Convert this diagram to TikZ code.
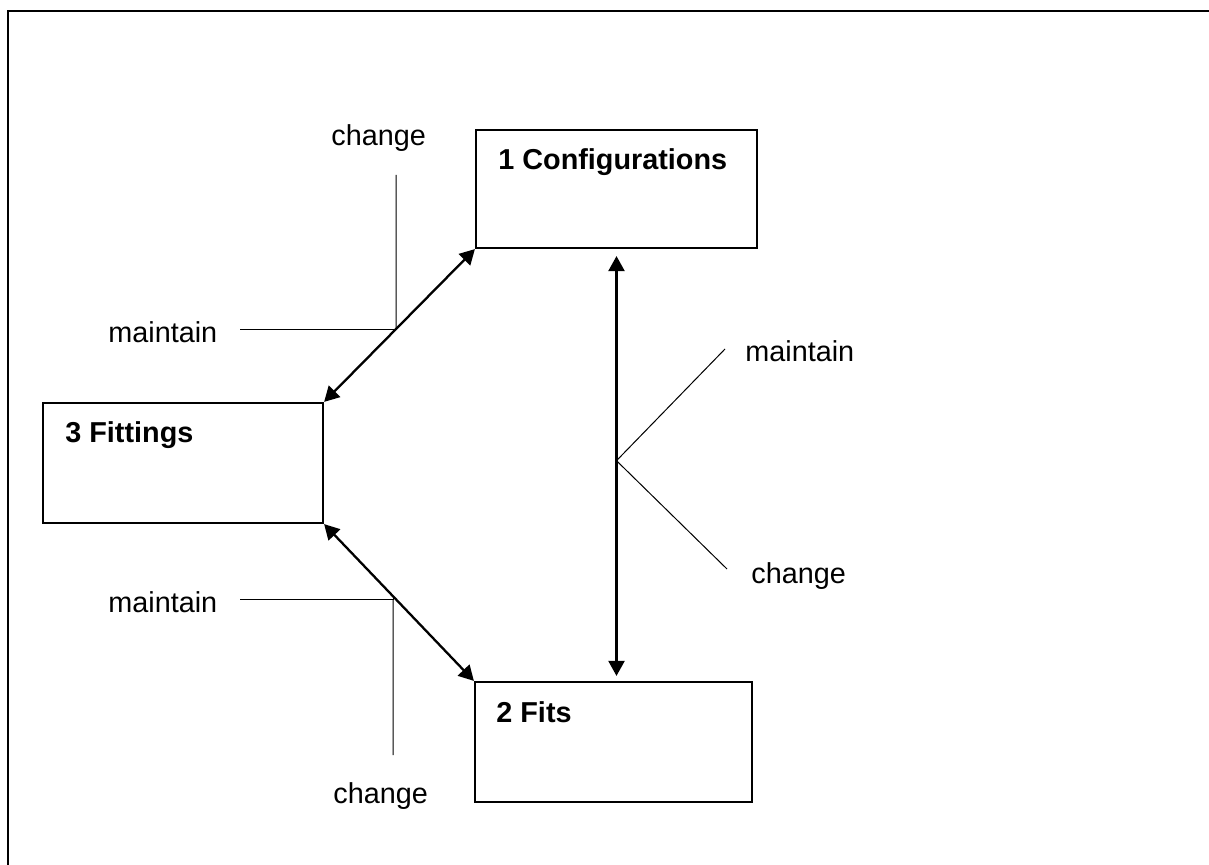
\documentclass[tikz,border=0pt]{standalone}
\usepackage{fontspec}
\setmainfont{Liberation Sans}
\usetikzlibrary{arrows.meta}
\begin{document}
\begin{tikzpicture}[x=0.5pt,y=-0.5pt,
  box/.style={draw=black, line width=1.1pt, fill=white, inner sep=0pt},
  boxtext/.style={anchor=base west, inner sep=0pt, font=\fontsize{14.4}{17}\selectfont\bfseries},
  lbl/.style={anchor=base west, inner sep=0pt, font=\fontsize{14.4}{17}\selectfont},
  link/.style={line width=1.15pt, {Triangle[length=7.5pt,width=8pt]}-{Triangle[length=7.5pt,width=8pt]}},
  thin/.style={line width=0.5pt}]
\useasboundingbox (0,0) rectangle (1209,865);
\fill[white] (0,0) rectangle (1209,865);
% frame
\draw[line width=1.35pt] (8,870) -- (8,11) -- (1215,11);
% boxes
\node[box, minimum width=140.5pt, minimum height=59pt] (b1) at (616.5,189) {};
\node[box, minimum width=140pt, minimum height=60pt] (b3) at (183,463) {};
\node[box, minimum width=138.5pt, minimum height=60pt] (b2) at (613.5,742) {};
\node[boxtext] (t1) at (498,170) {1 Configurations};
\node[boxtext] (t3) at (65,443) {3 Fittings};
\node[boxtext] (t2) at (496,722) {2 Fits};
% arrows
\draw[link] (b3.north east) -- coordinate[pos=0.477] (x1) (b1.south west);
\draw[link] (b3.south east) -- coordinate[pos=0.46] (x2) (b2.north west);
\draw[link, shorten <=3.5pt, shorten >=2.5pt] (b1.south) -- coordinate[pos=0.49] (x3) (b1.south |- b2.north);
% labels
\node[lbl] (m1) at (108,343) {maintain};
\node[lbl] (c1) at (331,146) {change};
\node[lbl] (m2) at (108,612) {maintain};
\node[lbl] (c2) at (333,803) {change};
\node[lbl] (m3) at (745,362) {maintain};
\node[lbl] (c3) at (751,583) {change};
% label lines
\coordinate (e1) at (240,330);
\coordinate (f1) at (396,175);
\coordinate (e2) at (240,599);
\coordinate (f2) at (393,755);
\coordinate (e3) at (725,349);
\coordinate (f3) at (727,569);
\draw[thin] (e1) -- (x1 |- e1) -- (x1);
\draw[thin] (f1) -- (x1);
\draw[thin] (e2) -- (x2 |- e2) -- (x2);
\draw[thin] (f2) -- (x2 |- e2);
\draw[thin] (e3) -- (x3) -- (f3);
\end{tikzpicture}
\end{document}
